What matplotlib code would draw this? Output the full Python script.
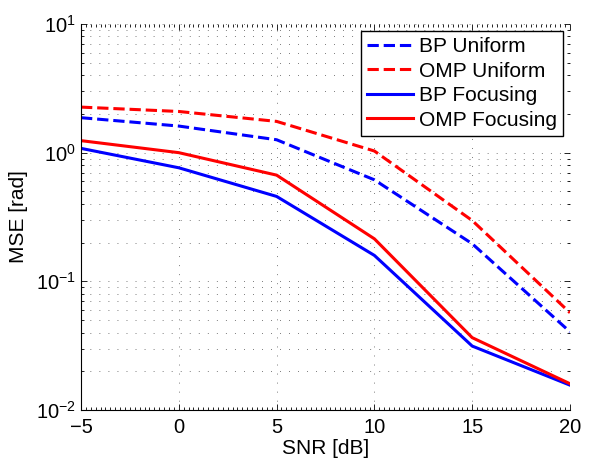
import numpy as np
import matplotlib.pyplot as plt
from matplotlib.ticker import LogLocator, NullFormatter, MultipleLocator

plt.rcParams['font.family'] = ['Liberation Sans', 'DejaVu Sans']
plt.rcParams['mathtext.fontset'] = 'custom'
plt.rcParams['mathtext.rm'] = 'Liberation Sans'
plt.rcParams['axes.unicode_minus'] = True

# data
snr = [-5, 0, 5, 10, 15, 20]
bp_uniform = [1.87, 1.61, 1.26, 0.615, 0.196, 0.0405]
omp_uniform = [2.26, 2.09, 1.75, 1.03, 0.297, 0.057]
bp_focusing = [1.08, 0.763, 0.457, 0.159, 0.0314, 0.0156]
omp_focusing = [1.24, 1.0, 0.669, 0.214, 0.0365, 0.016]
xticks = [-5, 0, 5, 10, 15, 20]
xticklabels = ['\u22125', '0', '5', '10', '15', '20']

fig = plt.figure(figsize=(5.95, 4.59), dpi=100)
ax = fig.add_axes([81 / 595, 49 / 459, 489 / 595, 386 / 459])

ax.semilogy(snr, bp_uniform, 'b--', lw=2.2, label='BP Uniform')
ax.semilogy(snr, omp_uniform, 'r--', lw=2.2, label='OMP Uniform')
ax.semilogy(snr, bp_focusing, 'b-', lw=2.2, label='BP Focusing')
ax.semilogy(snr, omp_focusing, 'r-', lw=2.2, label='OMP Focusing')

ax.set_xlim(-5, 20)
ax.set_ylim(1e-2, 1e1)
ax.set_xticks(xticks)
ax.set_xticklabels(xticklabels)
ax.xaxis.set_minor_locator(MultipleLocator(0.25))
ax.yaxis.set_major_locator(LogLocator(base=10, numticks=10))
ax.yaxis.set_minor_locator(LogLocator(base=10, subs=np.arange(2, 10), numticks=10))
ax.yaxis.set_minor_formatter(NullFormatter())

dots = (0, (1, 12))
ax.grid(True, which='major', axis='both', color='black', linestyle=dots, lw=0.5)
ax.grid(True, which='minor', axis='y', color='black', linestyle=dots, lw=0.5)

ax.tick_params(which='both', direction='in', labelsize=14.5, top=True, right=True,
               width=0.6)
ax.tick_params(which='major', length=4.5)
ax.tick_params(which='minor', length=2.2)
ax.tick_params(axis='x', which='major', pad=6)
ax.spines['top'].set_visible(False)
ax.spines['right'].set_visible(False)

ax.set_xlabel('SNR [dB]', fontsize=15, labelpad=1.5)
ax.set_ylabel('MSE [rad]', fontsize=15, labelpad=6)

leg = ax.legend(loc='upper right', fontsize=15, fancybox=False, framealpha=1,
                edgecolor='black', handlelength=2.2, handletextpad=0.28,
                borderpad=0.3, labelspacing=0.26, borderaxespad=0.34)
leg.get_frame().set_linewidth(1.0)

fig.savefig('out.png', dpi=100)
